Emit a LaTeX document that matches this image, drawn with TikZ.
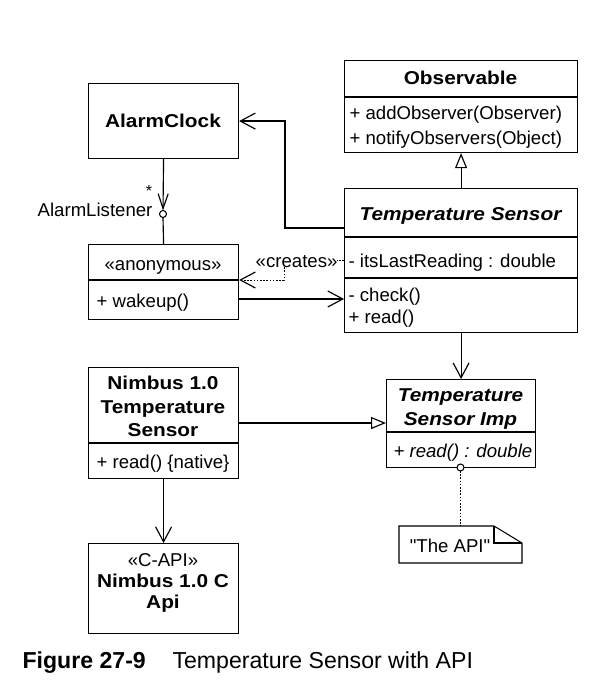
\documentclass[tikz,border=0pt]{standalone}
\usepackage{fontspec}
\setmainfont{Liberation Sans}[Ligatures=TeXOff]
\newfontfamily\tfont{Liberation Sans}[FakeStretch=1.12,Ligatures=TeXOff]
\usetikzlibrary{arrows.meta}
\begin{document}
\begin{tikzpicture}[x=1pt,y=-1pt, line width=1.15pt,
  box/.style={draw, inner sep=0pt, anchor=north west},
  txt/.style={inner sep=0pt, anchor=base west, font=\fontsize{18.6}{22}\selectfont},
  ctxt/.style={inner sep=0pt, anchor=base, font=\fontsize{18.6}{22}\selectfont},
  ttl/.style={inner sep=0pt, anchor=base, font=\fontsize{18.6}{22}\selectfont\tfont\bfseries},
  openarr/.style={-{Straight Barb[length=15pt,width=16pt,line width=1.15pt]}},
  genarr/.style={-{Triangle[open,length=15pt,width=12pt,fill=white,line width=1.15pt]}},
  lolarr/.style={-{Straight Barb[length=15pt,width=10pt,line width=1.15pt]}},
  dotline/.style={line width=1pt, dash pattern=on 1.6pt off 1.6pt},
]
\useasboundingbox (0,0) rectangle (614,698);

% Observable
\node[box, minimum width=233pt, minimum height=92pt] (obs) at (344,60) {};
\draw (344,97) -- (577,97);
\node[ttl] (obsT) at (460.5,85) {Observable};
\node[txt] (obsA) at (349,120) {+ addObserver(Observer)};
\node[txt] (obsB) at (349,144) {+ notifyObservers(Object)};

% AlarmClock
\node[box, minimum width=150pt, minimum height=75pt] (alarm) at (88,83) {};
\node[ttl] (alarmT) at (163,128) {AlarmClock};

% Temperature Sensor
\node[box, minimum width=233pt, minimum height=144pt] (ts) at (344,188) {};
\draw (344,237) -- (577,237);
\draw (344,278) -- (577,278);
\node[ttl, font=\fontsize{18.6}{22}\selectfont\tfont\bfseries\itshape] (tsT) at (460.5,220) {Temperature Sensor};
\node[txt] (tsA) at (348,267) {- itsLastReading : double};
\node[txt] (tsB) at (348,301) {- check()};
\node[txt] (tsC) at (348,323) {+ read()};

% anonymous
\node[box, minimum width=150pt, minimum height=75pt] (anon) at (88,244) {};
\draw (88,280) -- (238,280);
\node[ctxt] (anonT) at (163,270) {«anonymous»};
\node[txt] (anonA) at (96,307) {+ wakeup()};

% Nimbus
\node[box, minimum width=150pt, minimum height=111pt] (nim) at (88,367) {};
\draw (88,443) -- (238,443);
\node[ttl] (nimT1) at (163,389) {Nimbus 1.0};
\node[ttl] (nimT2) at (163,413) {Temperature};
\node[ttl] (nimT3) at (163,436) {Sensor};
\node[txt] (nimA) at (96,468) {+ read() \{native\}};

% Temperature Sensor Imp
\node[box, minimum width=149pt, minimum height=88pt] (tsi) at (386,379) {};
\draw (386,432) -- (535,432);
\node[ttl, font=\fontsize{18.6}{22}\selectfont\tfont\bfseries\itshape] (tsiT1) at (460.5,401) {Temperature};
\node[ttl, font=\fontsize{18.6}{22}\selectfont\tfont\bfseries\itshape] (tsiT2) at (460.5,425) {Sensor Imp};
\node[txt, font=\fontsize{18.6}{22}\selectfont\itshape] (tsiA) at (393,457) {+ read() : double};

% C-API
\node[box, minimum width=150pt, minimum height=90pt] (capi) at (88,543) {};
\node[ctxt] (capiS) at (163,566) {«C-API»};
\node[ttl] (capiT1) at (163,587) {Nimbus 1.0 C};
\node[ttl] (capiT2) at (163,608) {Api};

% Note
\draw[line width=1.05pt] (399,526) -- (494,526) -- (522,543) -- (522,563) -- (399,563) -- cycle;
\draw[line width=1.05pt] (494,526) -- (494,543) -- (522,543);
\coordinate (noteTop) at (460.5,526);
\node[ctxt] (noteT) at (450,552) {"The API"};

% Connectors
\draw[openarr] (ts.west |- 0,228) -- (285,228) |- (alarm.east);
\coordinate (lpc) at (163,214);
\coordinate (lpt) at (163,210.5);
\coordinate (lpb) at (163,217.5);
\draw[lolarr] (alarm.south) -- (lpt);
\draw (lpb) -- (anon.north);
\draw[line width=1.05pt, fill=white] (lpc) circle (3.5pt);
\node[inner sep=0pt, anchor=base, font=\fontsize{16}{18}\selectfont] (star) at (149,196) {*};
\node[txt, anchor=base east] (lpL) at (153,216) {AlarmListener};

\draw[openarr, dotline] (ts.west |- 0,260) -- (284,260) -- (284,280) -- (anon.east |- 0,280);
\node[txt, anchor=base east, fill=white] (cre) at (338,267) {«creates»};

\draw[openarr] (anon.east |- 0,299) -- (ts.west |- 0,299);
\draw[genarr] (ts.north) -- (obs.south);
\draw[openarr] (ts.south) -- (tsi.north);
\draw[genarr] (nim.east |- 0,423) -- (tsi.west |- 0,423);
\draw[openarr] (nim.south) -- (capi.north);

\coordinate (tc) at (460.5,467.5);
\coordinate (tcb) at (460.5,471);
\draw[dotline] (tcb) -- (noteTop);
\draw[line width=1.05pt, fill=white] (tc) circle (3.5pt);

% Caption
\node[inner sep=0pt, anchor=base west, font=\fontsize{23.1}{27}\selectfont\bfseries] (capA) at (22,668) {Figure 27-9};
\node[inner sep=0pt, anchor=base west, font=\fontsize{23.1}{27}\selectfont] (capB) at (172,668) {Temperature Sensor with API};
\end{tikzpicture}
\end{document}
